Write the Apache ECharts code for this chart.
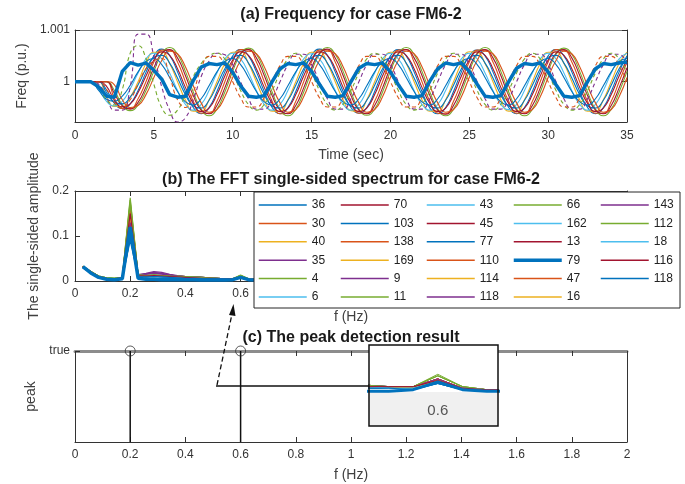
<!DOCTYPE html>
<html><head><meta charset="utf-8">
<script src="https://cdn.jsdelivr.net/npm/echarts@6/dist/echarts.min.js"></script>
<style>html,body{margin:0;padding:0;background:#fff}#c{width:685px;height:484px}</style>
</head><body><div id="c"></div>
<script>
// ---------- DATA ----------
// Panel (a): time (s) and frequency deviation from 1 p.u., in units of 1e-5 p.u.
const timeA = [0,0.5,1,1.5,2,2.5,3,3.5,4,4.5,5,5.5,6,6.5,7,7.5,8,8.5,9,9.5,10,10.5,11,11.5,12,12.5,13,13.5,14,14.5,15,15.5,16,16.5,17,17.5,18,18.5,19,19.5,20,20.5,21,21.5,22,22.5,23,23.5,24,24.5,25,25.5,26,26.5,27,27.5,28,28.5,29,29.5,30,30.5,31,31.5,32,32.5,33,33.5,34,34.5,35];
const a36 = [0,0,0,0,-16,-42,-52,-43,-17,18, 50,63,51,19,-19,-50,-62,-50,-19,19, 50,62,50,19,-19,-50,-62,-50,-19,19, 51,63,51,19,-19,-50,-61,-50,-19,19, 50,62,50,19,-19,-51,-62,-50,-19,19, 50,61,50,19,-19,-50,-62,-50,-19,19, 50,62,50,19,-19,-50,-62,-50,-19,19, 50];
const a30 = [0,0,0,0,0,-32,-52,-52,-33,0, 38,61,61,38,0,-38,-61,-61,-38,0, 38,62,62,38,0,-38,-62,-61,-38,0, 38,61,61,38,0,-38,-61,-61,-38,0, 38,61,62,38,0,-38,-61,-62,-38,0, 38,61,61,38,0,-38,-61,-61,-38,0, 38,62,61,38,0,-38,-61,-61,-38,0, 38];
const a40 = [0,0,0,0,-30,-48,-48,-30,0,35, 57,57,35,0,-35,-57,-57,-35,0,35, 57,58,35,0,-35,-57,-57,-35,0,35, 57,57,35,0,-35,-56,-57,-35,0,35, 57,57,35,0,-35,-57,-57,-35,0,35, 58,57,35,0,-35,-57,-57,-35,0,35, 57,57,35,0,-35,-57,-57,-35,0,35, 57];
const a4 = [0,0,0,0,0,-17,-45,-56,-45,-17, 20,53,66,53,20,-20,-53,-66,-53,-20, 20,53,65,53,20,-20,-53,-66,-53,-20, 20,53,66,53,20,-20,-53,-65,-53,-20, 20,53,66,53,20,-20,-53,-66,-53,-20, 20,53,66,53,20,-20,-53,-66,-53,-20, 20,53,65,53,20,-20,-53,-66,-53,-20, 20];
const a6 = [0,0,0,-14,-38,-47,-38,-14,17,44, 55,44,17,-17,-44,-55,-44,-17,17,44, 55,44,17,-17,-44,-55,-44,-17,17,44, 54,44,17,-17,-44,-55,-44,-17,17,44, 55,44,17,-17,-44,-55,-44,-17,17,44, 55,44,17,-17,-44,-54,-44,-17,17,44, 55,44,17,-17,-44,-55,-44,-17,17,44, 55];
const a70 = [0,0,0,0,0,-23,-47,-53,-40,-10, 27,55,62,46,12,-27,-55,-62,-46,-12, 27,55,62,46,12,-27,-55,-62,-46,-12, 27,55,63,46,12,-27,-55,-62,-46,-12, 27,55,62,46,12,-27,-55,-63,-46,-12, 27,55,62,46,12,-27,-55,-62,-46,-12, 27,55,62,46,12,-27,-55,-62,-46,-12, 27];
const a103 = [0,0,0,0,-21,-40,-43,-30,-6,25, 47,51,36,7,-25,-47,-51,-36,-7,25, 47,51,36,7,-25,-47,-51,-36,-7,25, 47,51,36,7,-25,-47,-51,-36,-7,25, 47,51,36,7,-25,-47,-51,-36,-7,25, 47,51,36,7,-25,-47,-51,-36,-7,25, 47,51,36,7,-25,-47,-51,-36,-7,25, 47];
const a138 = [0,0,0,0,0,-6,-35,-50,-46,-25, 8,41,59,54,29,-8,-41,-59,-54,-29, 8,41,59,54,29,-8,-41,-59,-54,-29, 8,41,59,54,29,-8,-41,-59,-54,-29, 8,41,59,54,29,-8,-41,-59,-54,-29, 8,41,59,54,29,-8,-41,-59,-54,-29, 8,41,59,54,29,-8,-41,-59,-54,-29, 8];
const a45 = [0,0,0,0,-9,-36,-49,-43,-21,11, 42,58,51,25,-11,-42,-58,-51,-25,11, 42,58,51,25,-11,-42,-58,-51,-25,11, 42,58,51,25,-11,-42,-58,-51,-25,11, 42,58,51,25,-11,-42,-58,-51,-25,11, 42,58,51,25,-11,-42,-58,-51,-25,11, 42,58,51,25,-11,-42,-58,-51,-25,11, 42];
const a77 = [0,0,0,-17,-34,-38,-28,-7,19,39, 45,33,8,-19,-39,-45,-33,-8,19,39, 45,33,8,-19,-39,-45,-33,-8,19,39, 45,33,8,-19,-39,-45,-33,-8,19,39, 45,33,8,-19,-39,-45,-33,-8,19,39, 45,33,8,-19,-39,-45,-33,-8,19,39, 45,33,8,-19,-39,-45,-33,-8,19,39, 45];
const a35 = [0,0,0,-5,-30,-55,-55,-10,92,92, 50,-10,-55,-78,-70,-35,10,40,55,52, 33,0,-33,-53,-53,-33,0,33,53,53, 33,0,-33,-53,-53,-33,0,33,53,53, 33,0,-33,-53,-53,-33,0,33,53,53, 33,0,-33,-53,-53,-33,0,33,53,53, 33,0,-33,-53,-53,-33,0,33,53,53, 33];
const a11 = [0,0,0,-10,-35,-45,-15,55,70,45, -5,-50,-65,-55,-25,10,35,50,55,44, 17,-17,-44,-55,-44,-17,17,44,55,44, 17,-17,-44,-55,-44,-17,17,44,55,44, 17,-17,-44,-55,-44,-17,17,44,55,44, 17,-17,-44,-55,-44,-17,17,44,55,44, 17,-17,-44,-55,-44,-17,17,44,55,44, 17];
const a110 = [0,0,0,0,-15,-40,-50,-35,-5,25, 40,45,10,-35,-50,-20,25,49,49,31, 0,-31,-49,-49,-31,0,31,49,49,31, 0,-31,-49,-49,-31,0,31,49,49,31, 0,-31,-49,-49,-31,0,31,49,49,31, 0,-31,-49,-49,-31,0,31,49,49,31, 0,-31,-49,-49,-31,0,31,49,49,31, 0];
const a79 = [0,0,0,-10,-28,-30,20,37,32,36, 22,5,-25,-30,-28,2,28,35,33,36, 18,-8,-28,-30,-27,0,25,35,33,36, 20,-5,-28,-30,-27,0,26,35,33,36, 19,-6,-28,-30,-27,1,25,36,33,36, 20,-5,-28,-30,-27,0,26,35,33,36, 19,-6,-28,-30,-27,0,25,35,33,36, 38];
const yTickA = [0, 100];
const yTickLabelA = ['1', '1.001'];

// Panel (b): frequency (Hz) and single-sided amplitude
const fB = [0.0286,0.0571,0.0857,0.1143,0.1429,0.1714,0.2,0.2286,0.2571,0.2857,0.3143,0.3429,0.3714,0.4,0.4286,0.4571,0.4857,0.5143,0.5429,0.5714,0.6,0.6286,0.6571,0.6857];
const s36 = [.030,.019,.009,.005,.004,.006,.125,.011,.010,.011,.010,.009,.008,.007,.006,.006,.005,.005,.004,.004,.008,.004,.003,.003];
const s30 = [.032,.020,.010,.006,.005,.007,.150,.012,.011,.012,.011,.010,.009,.008,.007,.006,.006,.005,.005,.005,.009,.004,.003,.003];
const s40 = [.031,.020,.010,.006,.005,.007,.140,.012,.011,.012,.011,.010,.009,.008,.007,.006,.006,.005,.005,.004,.009,.004,.003,.003];
const s35 = [.031,.020,.010,.006,.005,.007,.110,.014,.017,.021,.019,.015,.012,.010,.009,.008,.007,.006,.005,.005,.010,.004,.003,.003];
const s4 = [.033,.021,.011,.007,.006,.008,.185,.014,.012,.013,.012,.011,.011,.010,.009,.008,.007,.006,.005,.005,.012,.005,.003,.003];
const s6 = [.030,.019,.009,.005,.004,.006,.120,.011,.010,.011,.010,.009,.008,.007,.006,.006,.005,.005,.004,.004,.008,.004,.003,.003];
const s70 = [.032,.020,.010,.006,.005,.007,.160,.013,.011,.012,.011,.010,.009,.008,.007,.006,.006,.005,.005,.005,.009,.004,.003,.003];
const s103 = [.030,.018,.009,.005,.004,.006,.100,.010,.009,.010,.009,.008,.007,.007,.006,.005,.005,.004,.004,.004,.007,.003,.003,.002];
const s138 = [.032,.021,.010,.006,.005,.007,.170,.013,.012,.012,.011,.010,.009,.008,.008,.007,.006,.005,.005,.005,.010,.004,.003,.003];
const s169 = [.031,.020,.010,.006,.005,.007,.130,.012,.011,.011,.010,.010,.009,.008,.007,.006,.006,.005,.005,.004,.009,.004,.003,.003];
const s9 = [.031,.020,.010,.006,.005,.007,.145,.013,.015,.018,.016,.013,.011,.010,.009,.008,.007,.006,.005,.005,.010,.004,.003,.003];
const s11 = [.033,.021,.011,.007,.006,.008,.175,.014,.012,.013,.012,.011,.011,.010,.009,.008,.007,.006,.005,.005,.012,.005,.003,.003];
const s43 = [.030,.019,.009,.005,.004,.006,.115,.011,.010,.011,.010,.009,.008,.007,.006,.006,.005,.005,.004,.004,.008,.004,.003,.003];
const s45 = [.032,.020,.010,.006,.005,.007,.155,.012,.011,.012,.011,.010,.009,.008,.007,.006,.006,.005,.005,.005,.009,.004,.003,.003];
const s77 = [.029,.018,.009,.005,.004,.006,.095,.010,.009,.010,.009,.008,.007,.006,.006,.005,.005,.004,.004,.003,.007,.003,.002,.002];
const s110 = [.032,.021,.010,.006,.005,.007,.165,.013,.012,.012,.011,.010,.009,.008,.008,.007,.006,.005,.005,.005,.010,.004,.003,.003];
const s114 = [.031,.020,.010,.006,.005,.007,.135,.012,.011,.011,.010,.010,.009,.008,.007,.006,.006,.005,.005,.004,.009,.004,.003,.003];
const s118a = [.031,.020,.010,.006,.005,.006,.105,.013,.016,.019,.017,.014,.011,.010,.009,.008,.007,.006,.005,.005,.009,.004,.003,.003];
const s66 = [.033,.021,.011,.007,.006,.008,.180,.014,.012,.013,.012,.011,.011,.010,.009,.008,.007,.006,.005,.005,.013,.005,.003,.003];
const s162 = [.030,.019,.009,.005,.004,.006,.110,.011,.010,.011,.010,.009,.008,.007,.006,.006,.005,.005,.004,.004,.008,.004,.003,.003];
const s13 = [.032,.020,.010,.006,.005,.007,.150,.012,.011,.012,.011,.010,.009,.008,.007,.006,.006,.005,.005,.005,.009,.004,.003,.003];
const s79 = [.032,.018,.008,.004,.003,.005,.120,.006,.004,.004,.003,.003,.003,.003,.003,.002,.002,.002,.002,.003,.008,.003,.002,.002];
const s47 = [.032,.020,.010,.006,.005,.007,.160,.013,.011,.012,.011,.010,.009,.008,.007,.006,.006,.005,.005,.005,.010,.004,.003,.003];
const s16 = [.031,.020,.010,.006,.005,.007,.140,.012,.011,.012,.011,.010,.009,.008,.007,.006,.006,.005,.005,.004,.009,.004,.003,.003];
const s143 = [.031,.020,.010,.006,.005,.007,.130,.013,.015,.017,.015,.013,.011,.010,.009,.008,.007,.006,.005,.005,.010,.004,.003,.003];
const s112 = [.033,.021,.011,.007,.006,.008,.170,.014,.012,.013,.012,.011,.010,.010,.009,.008,.007,.006,.005,.005,.012,.005,.003,.003];
const s18 = [.030,.019,.009,.005,.004,.006,.115,.011,.010,.011,.010,.009,.008,.007,.006,.006,.005,.005,.004,.004,.008,.004,.003,.003];
const s116 = [.032,.020,.010,.006,.005,.007,.150,.012,.011,.012,.011,.010,.009,.008,.007,.006,.006,.005,.005,.005,.009,.004,.003,.003];
const s118b = [.030,.018,.009,.005,.004,.006,.090,.010,.009,.010,.009,.008,.007,.006,.006,.005,.005,.004,.004,.003,.007,.003,.002,.002];

// Panel (c): detected peaks
const peakFreq = [0.2, 0.6];
const peakFlag = [1, 1];

// Legend layout (column-major as in the figure)
const legendColumns = [
  ['36','30','40','35','4','6'],
  ['70','103','138','169','9','11'],
  ['43','45','77','110','114','118a'],
  ['66','162','13','79','47','16'],
  ['143','112','18','116','118b']
];

// ---------- BUILD ----------
const MATLAB = ['#0072BD','#D95319','#EDB120','#7E2F8E','#77AC30','#4DBEEE','#A2142F'];
const colorOf = {};
legendColumns.flat().forEach((n, i) => { colorOf[n] = MATLAB[i % 7]; });
const seriesB = [['36',s36],['30',s30],['40',s40],['35',s35],['4',s4],['6',s6],['70',s70],['103',s103],['138',s138],['169',s169],['9',s9],['11',s11],['43',s43],['45',s45],['77',s77],['110',s110],['114',s114],['118a',s118a],['66',s66],['162',s162],['13',s13],['79',s79],['47',s47],['16',s16],['143',s143],['112',s112],['18',s18],['116',s116],['118b',s118b]];
const seriesA = [['36',a36,'solid'],['30',a30,'solid'],['40',a40,'solid'],['4',a4,'solid'],['6',a6,'solid'],['70',a70,'solid'],['103',a103,'solid'],['138',a138,'solid'],['45',a45,'solid'],['77',a77,'solid'],['35',a35,'dashed'],['11',a11,'dashed'],['110',a110,'dashed'],['79',a79,'solid']];

const zip = (xs, ys) => xs.map((x, i) => [x, ys[i]]);
const FONT = '"Liberation Sans", Arial, Helvetica, sans-serif';
const INK = '#333';
const axisLine = { show: true, onZero: false, lineStyle: { color: INK, width: 1 } };
const tickIn = { show: true, inside: true, length: 5, lineStyle: { color: INK } };
const lab = { color: INK, fontSize: 12, fontFamily: FONT };
const nameStyle = { color: '#404040', fontSize: 14, fontFamily: FONT };
const noSplit = { show: false };

const grids = [
  { left: 75, top: 30, width: 552, height: 92 },
  { left: 75, top: 191, width: 552, height: 90 },
  { left: 75, top: 351, width: 552, height: 91 },
  { left: 369, top: 345, width: 129, height: 47 }
];

const xAxis = [
  { gridIndex: 0, type: 'value', min: 0, max: 35, interval: 5, position: 'bottom', axisLine, axisTick: tickIn, axisLabel: { ...lab, margin: 8 }, splitLine: noSplit, name: 'Time (sec)', nameLocation: 'middle', nameGap: 26, nameTextStyle: nameStyle },
  { gridIndex: 0, type: 'value', min: 0, max: 35, interval: 5, position: 'top', axisLine: { show: true, onZero: false, lineStyle: { color: '#777', width: 1 } }, axisTick: tickIn, axisLabel: { show: false }, splitLine: noSplit },
  { gridIndex: 1, type: 'value', min: 0, max: 2, interval: 0.2, position: 'bottom', axisLine, axisTick: tickIn, axisLabel: { ...lab, margin: 7 }, splitLine: noSplit, name: 'f (Hz)', nameLocation: 'middle', nameGap: 29, nameTextStyle: nameStyle },
  { gridIndex: 1, type: 'value', min: 0, max: 2, interval: 0.2, position: 'top', axisLine, axisTick: tickIn, axisLabel: { show: false }, splitLine: noSplit },
  { gridIndex: 2, type: 'value', min: 0, max: 2, interval: 0.2, position: 'bottom', axisLine, axisTick: tickIn, axisLabel: { ...lab, margin: 7 }, splitLine: noSplit, name: 'f (Hz)', nameLocation: 'middle', nameGap: 26, nameTextStyle: nameStyle },
  { gridIndex: 2, type: 'value', min: 0, max: 2, interval: 0.2, position: 'top', axisLine: { show: true, onZero: false, lineStyle: { color: '#8c8c8c', width: 3 } }, axisTick: tickIn, axisLabel: { show: false }, splitLine: noSplit },
  { gridIndex: 3, type: 'value', min: 0.52, max: 0.67, position: 'bottom', z: 9, axisLine: { show: false }, axisTick: { show: false }, axisLabel: { customValues: [0.6], color: '#555', fontSize: 15, fontFamily: FONT, margin: 11 }, splitLine: noSplit }
];

const yAxis = [
  { gridIndex: 0, type: 'value', min: -78, max: 100, position: 'left', axisLine, axisTick: { ...tickIn, customValues: yTickA }, axisLabel: { ...lab, margin: 5, customValues: yTickA, formatter: v => yTickLabelA[yTickA.indexOf(v)] }, splitLine: noSplit, name: 'Freq (p.u.)', nameLocation: 'middle', nameGap: 45, nameTextStyle: nameStyle },
  { gridIndex: 0, type: 'value', min: -78, max: 100, position: 'right', axisLine, axisTick: { ...tickIn, customValues: yTickA }, axisLabel: { show: false }, splitLine: noSplit },
  { gridIndex: 1, type: 'value', min: 0, max: 0.2, interval: 0.1, position: 'left', axisLine, axisTick: tickIn, axisLabel: { ...lab, margin: 6 }, splitLine: noSplit, name: 'The single-sided amplitude', nameLocation: 'middle', nameGap: 30, nameTextStyle: nameStyle },
  { gridIndex: 1, type: 'value', min: 0, max: 0.2, interval: 0.1, position: 'right', axisLine, axisTick: tickIn, axisLabel: { show: false }, splitLine: noSplit },
  { gridIndex: 2, type: 'value', min: 0, max: 1, position: 'left', axisLine, axisTick: { ...tickIn, customValues: [1] }, axisLabel: { ...lab, margin: 5, customValues: [1], formatter: () => 'true' }, splitLine: noSplit, name: 'peak', nameLocation: 'middle', nameGap: 33, nameTextStyle: nameStyle },
  { gridIndex: 2, type: 'value', min: 0, max: 1, position: 'right', axisLine, axisTick: { show: false }, axisLabel: { show: false }, splitLine: noSplit },
  { gridIndex: 3, type: 'value', min: 0.0015, max: 0.032, show: false }
];

const series = [];
seriesB.forEach(([n, arr]) => {
  const thick = n === '79';
  series.push({ type: 'line', name: n, xAxisIndex: 2, yAxisIndex: 2, data: zip(fB, arr), symbol: 'none', silent: true,
    lineStyle: { width: thick ? 3.5 : 1.2, color: colorOf[n] }, itemStyle: { color: colorOf[n] }, z: thick ? 3 : 2 });
});
seriesB.forEach(([n, arr]) => {
  const thick = n === '79';
  series.push({ type: 'line', xAxisIndex: 6, yAxisIndex: 6, data: zip(fB, arr), symbol: 'none', silent: true,
    lineStyle: { width: thick ? 3 : 1, color: colorOf[n] }, itemStyle: { color: colorOf[n] }, z: thick ? 9 : 8 });
});
seriesA.forEach(([n, arr, dash]) => {
  const thick = n === '79';
  series.push({ type: 'line', name: n, xAxisIndex: 0, yAxisIndex: 0, data: zip(timeA, arr), symbol: 'none', silent: true,
    smooth: thick ? false : 0.5,
    lineStyle: { width: thick ? 3.5 : 1.1, color: colorOf[n], type: dash === 'dashed' ? [4, 3] : 'solid' },
    itemStyle: { color: colorOf[n] }, z: thick ? 4 : 2 });
});
series.push({ type: 'bar', xAxisIndex: 4, yAxisIndex: 4, data: zip(peakFreq, peakFlag), barWidth: 1.5, silent: true, itemStyle: { color: '#111' } });
series.push({ type: 'scatter', xAxisIndex: 4, yAxisIndex: 4, data: zip(peakFreq, peakFlag), symbol: 'circle', symbolSize: 10, silent: true, z: 5,
  itemStyle: { color: 'rgba(0,0,0,0)', borderColor: '#333', borderWidth: 1 } });

const legendX = [258, 340, 426, 512, 600];
const legend = legendColumns.map((col, ci) => ({
  orient: 'vertical', left: legendX[ci], top: 198, padding: 0,
  itemWidth: 48, itemHeight: 14, itemGap: 4.4, selectedMode: false, z: 30,
  data: col.map(n => n === '79' ? { name: n, lineStyle: { width: 3.5 } } : { name: n }),
  lineStyle: { width: 1.5 },
  itemStyle: { opacity: 0 },
  formatter: n => n.replace(/[ab]$/, ''),
  textStyle: { fontSize: 12, color: '#222', fontFamily: FONT, lineHeight: 14 }
}));

const titleFont = 'bold 16px ' + FONT;
const graphic = [
  { type: 'text', z: 40, style: { text: '(a) Frequency for case FM6-2', x: 351, y: 15, align: 'center', verticalAlign: 'middle', font: titleFont, fill: '#1a1a1a' } },
  { type: 'text', z: 40, style: { text: '(b) The FFT single-sided spectrum for case FM6-2', x: 351, y: 180, align: 'center', verticalAlign: 'middle', font: titleFont, fill: '#1a1a1a' } },
  { type: 'text', z: 40, style: { text: '(c) The peak detection result', x: 351, y: 338, align: 'center', verticalAlign: 'middle', font: titleFont, fill: '#1a1a1a' } },
  { type: 'rect', z: 25, shape: { x: 254, y: 192, width: 426, height: 116 }, style: { fill: '#fff', stroke: '#262626', lineWidth: 1 } },
  { type: 'rect', z: 6, shape: { x: 369, y: 345, width: 129, height: 47 }, style: { fill: '#fff' } },
  { type: 'rect', z: 6, shape: { x: 369, y: 392, width: 129, height: 34 }, style: { fill: '#f0f0f0' } },
  { type: 'rect', z: 12, shape: { x: 369, y: 345, width: 129, height: 81 }, style: { fill: 'none', stroke: '#111', lineWidth: 1.5 } },
  { type: 'line', z: 12, shape: { x1: 216, y1: 386, x2: 369, y2: 386 }, style: { stroke: '#111', lineWidth: 1.3 } },
  { type: 'line', z: 12, shape: { x1: 217, y1: 385, x2: 232, y2: 314 }, style: { stroke: '#111', lineWidth: 1.3, lineDash: [5, 3] } },
  { type: 'polygon', z: 12, shape: { points: [[233.5, 304], [229, 315], [235.5, 316]] }, style: { fill: '#111' } }
];

const chart = echarts.init(document.getElementById('c'), null, { renderer: 'canvas' });
chart.setOption({
  animation: false,
  backgroundColor: '#fff',
  grid: grids,
  xAxis, yAxis, series, legend, graphic,
  tooltip: { show: false }
});
</script></body></html>
